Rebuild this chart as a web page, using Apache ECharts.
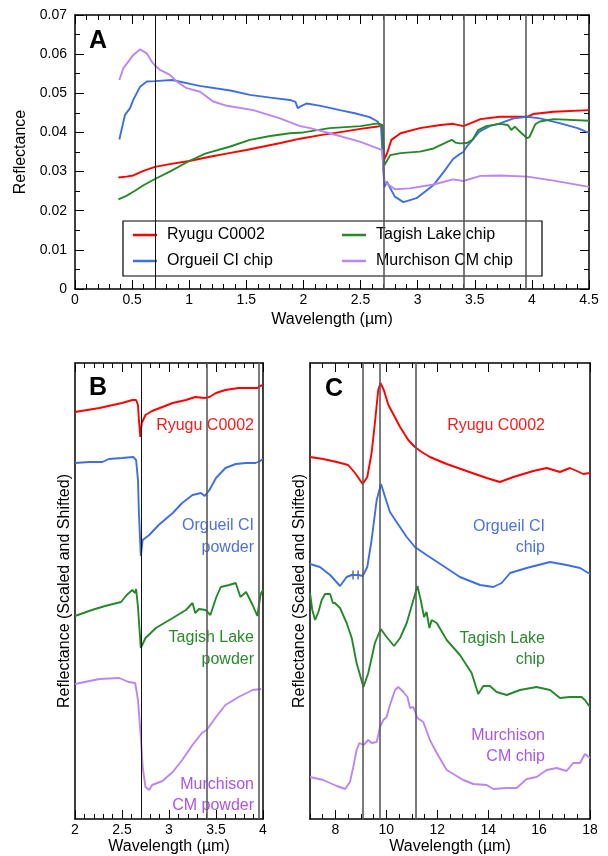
<!DOCTYPE html>
<html>
<head>
<meta charset="utf-8">
<title>Ryugu reflectance spectra</title>
<script src="https://cdn.jsdelivr.net/npm/echarts@6/dist/echarts.min.js"></script>
<style>
  html, body { margin: 0; padding: 0; background: #fff; }
  #chart { width: 608px; height: 856px; }
</style>
</head>
<body>
<div id="chart"></div>
<script>
// ---- panel A : absolute reflectance, [wavelength µm, reflectance] ----
const ryuguA = [[0.38,0.0285],[0.45,0.0287],[0.51,0.0290],[0.6,0.0302],[0.7,0.0312],[0.83,0.0319],[1.0,0.0327],[1.18,0.0338],[1.35,0.0347],[1.5,0.0355],[1.65,0.0364],[1.8,0.0373],[1.97,0.0384],[2.15,0.0393],[2.35,0.0402],[2.5,0.0409],[2.65,0.0415],[2.69,0.0418],[2.70,0.0370],[2.71,0.0332],[2.73,0.0345],[2.77,0.0381],[2.85,0.0398],[3.02,0.0411],[3.2,0.0419],[3.31,0.0422],[3.4,0.0416],[3.46,0.0423],[3.55,0.0434],[3.72,0.0440],[3.96,0.0440],[4.01,0.0447],[4.19,0.0453],[4.5,0.0457]];
const orgueilA = [[0.388,0.0382],[0.438,0.0445],[0.482,0.0462],[0.51,0.0483],[0.57,0.0517],[0.628,0.0530],[0.7,0.0531],[0.85,0.0534],[1.09,0.0519],[1.36,0.0507],[1.53,0.0496],[1.71,0.0489],[1.88,0.0483],[1.93,0.0478],[1.95,0.0462],[1.97,0.0466],[2.03,0.0474],[2.15,0.0468],[2.32,0.0457],[2.45,0.0449],[2.58,0.0439],[2.65,0.0428],[2.68,0.0412],[2.70,0.0300],[2.71,0.0261],[2.73,0.0274],[2.80,0.0236],[2.875,0.0222],[2.99,0.0232],[3.14,0.0266],[3.23,0.0300],[3.31,0.0332],[3.37,0.0345],[3.40,0.0350],[3.43,0.0364],[3.48,0.0381],[3.54,0.0402],[3.63,0.0416],[3.72,0.0423],[3.84,0.0436],[3.96,0.0440],[4.07,0.0436],[4.25,0.0423],[4.4,0.0411],[4.5,0.0399]];
const tagishA = [[0.38,0.0229],[0.45,0.0238],[0.525,0.0251],[0.6,0.0265],[0.7,0.0281],[0.83,0.0300],[1.0,0.0327],[1.14,0.0346],[1.36,0.0364],[1.53,0.0381],[1.71,0.0391],[1.88,0.0398],[2.0,0.0400],[2.23,0.0411],[2.5,0.0416],[2.65,0.0423],[2.69,0.0419],[2.70,0.0360],[2.71,0.0317],[2.76,0.0342],[2.85,0.0347],[3.02,0.0351],[3.14,0.0359],[3.26,0.0376],[3.3,0.0381],[3.33,0.0374],[3.37,0.0372],[3.43,0.0373],[3.48,0.0381],[3.53,0.0406],[3.6,0.0416],[3.72,0.0422],[3.79,0.0419],[3.82,0.0406],[3.85,0.0415],[3.91,0.0398],[3.96,0.0385],[3.98,0.0389],[4.03,0.0421],[4.07,0.0428],[4.19,0.0434],[4.5,0.0430]];
const murchisonA = [[0.388,0.0534],[0.423,0.0564],[0.467,0.0581],[0.51,0.0598],[0.569,0.0612],[0.628,0.0602],[0.672,0.0581],[0.70,0.0571],[0.744,0.0560],[0.832,0.0547],[0.89,0.0530],[0.978,0.0513],[1.095,0.0504],[1.21,0.0479],[1.33,0.0468],[1.56,0.0457],[1.795,0.0436],[1.97,0.0416],[2.06,0.0411],[2.23,0.0398],[2.5,0.0376],[2.69,0.0355],[2.71,0.0274],[2.80,0.0255],[2.93,0.0257],[3.14,0.0267],[3.31,0.0280],[3.40,0.0276],[3.55,0.0289],[3.72,0.0290],[3.96,0.0287],[4.19,0.0277],[4.5,0.0261]];

// ---- panel B : powders 2-4 µm, scaled and shifted (arbitrary units) ----
const ryuguB = [[2.0,407],[2.26,411],[2.5,416],[2.61,419],[2.65,419],[2.67,414],[2.68,399],[2.695,382],[2.71,396],[2.75,404],[2.82,408],[2.93,412],[3.04,416],[3.18,419],[3.28,422],[3.38,421],[3.43,422],[3.5,426],[3.6,429],[3.74,431],[3.89,431],[3.94,431],[3.97,433],[4.0,434]];
const orgueilB = [[2.0,356],[2.15,357],[2.29,357],[2.36,360],[2.5,361],[2.62,362],[2.65,359],[2.67,339],[2.68,306],[2.7,263],[2.72,279],[2.79,284],[2.89,294],[3.04,306],[3.14,316],[3.25,324],[3.34,326],[3.38,323],[3.43,329],[3.5,341],[3.6,351],[3.71,355],[3.82,356],[3.92,356],[3.97,358],[4.0,360]];
const tagishB = [[2.0,203],[2.18,209],[2.32,213],[2.49,217],[2.55,224],[2.61,229],[2.64,226],[2.65,230],[2.67,212],[2.7,171],[2.75,181],[2.86,191],[3.04,201],[3.18,209],[3.25,216],[3.28,206],[3.32,210],[3.39,209],[3.44,204],[3.5,221],[3.55,232],[3.64,234],[3.71,236],[3.76,222],[3.82,227],[3.89,214],[3.94,203],[3.97,222],[3.98,226],[4.0,229]];
const murchisonB = [[2.0,135],[2.26,140],[2.47,141],[2.57,137],[2.64,136],[2.67,119],[2.7,82],[2.72,52],[2.75,32],[2.79,29],[2.82,34],[2.93,38],[3.04,47],[3.14,59],[3.25,74],[3.35,86],[3.4,89],[3.5,102],[3.6,114],[3.74,122],[3.89,129],[3.98,130]];

// ---- panel C : chips 7-18 µm, scaled and shifted (arbitrary units) ----
const ryuguC = [[7.0,362],[7.52,360],[8.05,357],[8.5,354],[8.77,346],[9.07,335],[9.25,342],[9.42,366],[9.55,396],[9.68,429],[9.77,436],[9.9,429],[10.08,414],[10.27,405],[10.54,392],[10.86,379],[11.12,372],[11.39,367],[11.71,362],[12.37,355],[13.15,348],[13.94,341],[14.46,337],[14.99,342],[15.77,348],[16.3,351],[16.82,347],[17.21,351],[17.48,348],[17.74,345],[18.0,346]];
const orgueilC = [[7.0,255],[7.39,252],[7.79,244],[8.18,233],[8.44,242],[8.64,244],[8.9,244],[9.07,243],[9.25,252],[9.42,279],[9.62,319],[9.79,335],[9.95,322],[10.14,307],[10.4,297],[10.8,282],[11.12,272],[11.58,264],[12.24,253],[12.89,242],[13.68,234],[14.2,232],[14.53,236],[14.86,246],[15.51,251],[16.43,257],[17.08,254],[17.61,251],[18.0,245]];
const tagishC = [[7.0,226],[7.09,209],[7.2,199],[7.33,207],[7.46,219],[7.59,225],[7.79,225],[7.9,216],[7.98,216],[8.18,211],[8.44,196],[8.64,181],[8.83,156],[9.1,132],[9.29,146],[9.55,176],[9.78,190],[10.01,182],[10.3,173],[10.54,181],[10.8,196],[11.06,219],[11.22,233],[11.35,219],[11.48,202],[11.58,207],[11.69,191],[11.78,199],[11.98,196],[12.37,179],[12.89,164],[13.35,146],[13.61,125],[13.81,133],[14.07,133],[14.33,127],[14.73,124],[15.25,129],[15.9,132],[16.43,129],[16.82,121],[17.21,122],[17.67,122],[17.8,119],[18.0,112]];
const murchisonC = [[7.0,42],[7.52,39],[8.05,33],[8.38,30],[8.57,37],[8.7,52],[8.83,69],[8.94,76],[9.1,74],[9.29,79],[9.42,76],[9.62,77],[9.75,92],[9.88,99],[10.01,102],[10.14,114],[10.34,129],[10.47,132],[10.67,127],[10.83,122],[10.93,111],[11.06,112],[11.22,101],[11.45,97],[11.71,79],[11.98,66],[12.37,49],[13.02,39],[13.42,35],[13.94,34],[14.2,30],[14.73,31],[15.12,31],[15.51,40],[15.9,42],[16.3,49],[16.69,51],[17.08,48],[17.34,56],[17.61,56],[17.8,65],[18.0,61]];
const orgueilMarksC = [[8.69,244],[8.89,244]];

// band positions (µm) marked with vertical lines
const linesA = [0.7, 2.7, 3.4, 3.95];
const linesB = [2.7, 3.4, 3.95];
const linesC = [9.07, 9.75, 11.15];
const labelTicksC = [8, 10, 12, 14, 16, 18];

const names = ['Ryugu C0002', 'Orgueil CI chip', 'Tagish Lake chip', 'Murchison CM chip'];
const colors = ['#ff0000', '#3f6ee4', '#25892a', '#bb86f4'];
const textColors = ['#ff1a1a', '#4a72e6', '#2a8a2a', '#aa55f0'];

const FONT = '"Liberation Sans", Arial, Helvetica, sans-serif';
const BLACK = '#000';

const chart = echarts.init(document.getElementById('chart'));

function xAx(grid, min, max, interval, pos, extra) {
  return Object.assign({
    gridIndex: grid, type: 'value', min: min, max: max, interval: interval, position: pos,
    axisLine: { onZero: false, lineStyle: { color: BLACK, width: 1.5 } },
    axisTick: { inside: true, length: 9, lineStyle: { color: BLACK, width: 1 } },
    minorTick: { show: true, splitNumber: 5, length: 5, lineStyle: { color: BLACK, width: 1 } },
    splitLine: { show: false },
    axisLabel: { show: false }
  }, extra || {});
}

const tickLabel = { show: true, margin: 4, fontSize: 14, color: BLACK, fontFamily: FONT };
const axisName = { fontSize: 16, color: BLACK, fontFamily: FONT };

const xAxes = [
  xAx(0, 0, 4.5, 0.5, 'bottom', { axisLabel: tickLabel, name: 'Wavelength (µm)', nameLocation: 'middle', nameGap: 23, nameMoveOverlap: false, nameTextStyle: axisName }),
  xAx(0, 0, 4.5, 0.5, 'top'),
  xAx(1, 2, 4, 0.5, 'bottom', { axisLabel: Object.assign({}, tickLabel, { margin: 4 }), name: 'Wavelength (µm)', nameLocation: 'middle', nameGap: 20, nameMoveOverlap: false, nameTextStyle: axisName }),
  xAx(1, 2, 4, 0.5, 'top'),
  // panel C: short ticks every 0.5, long ticks and labels at even values
  xAx(2, 7, 18, 0.5, 'bottom', {
    axisTick: { inside: true, length: 5, lineStyle: { color: BLACK, width: 1 } },
    minorTick: { show: false },
    axisLabel: Object.assign({}, tickLabel, { margin: 4, customValues: labelTicksC, formatter: v => (v % 2 === 0 ? String(v) : '') }),
    name: 'Wavelength (µm)', nameLocation: 'middle', nameGap: 20, nameMoveOverlap: false, nameTextStyle: axisName
  }),
  xAx(2, 7, 18, 0.5, 'top', {
    axisTick: { inside: true, length: 5, lineStyle: { color: BLACK, width: 1 } },
    minorTick: { show: false }
  }),
  xAx(2, 7, 18, 0.5, 'bottom', {
    axisLine: { show: false, onZero: false },
    axisTick: { inside: true, length: 9, customValues: labelTicksC, lineStyle: { color: BLACK, width: 1 } },
    minorTick: { show: false }
  }),
  xAx(2, 7, 18, 0.5, 'top', {
    axisLine: { show: false, onZero: false },
    axisTick: { inside: true, length: 9, customValues: labelTicksC, lineStyle: { color: BLACK, width: 1 } },
    minorTick: { show: false }
  })
];

function yPlain(grid, pos, extra) {
  return Object.assign({
    gridIndex: grid, type: 'value', min: 0, max: 456, position: pos,
    axisLine: { show: true, onZero: false, lineStyle: { color: BLACK, width: 1.5 } },
    axisTick: { show: false }, axisLabel: { show: false }, splitLine: { show: false }
  }, extra || {});
}

const yAxes = [
  {
    gridIndex: 0, type: 'value', min: 0, max: 0.07, interval: 0.01, position: 'left',
    axisLine: { onZero: false, lineStyle: { color: BLACK, width: 1.5 } },
    axisTick: { inside: true, length: 9, lineStyle: { color: BLACK, width: 1 } },
    minorTick: { show: true, splitNumber: 2, length: 5, lineStyle: { color: BLACK, width: 1 } },
    splitLine: { show: false },
    axisLabel: Object.assign({}, tickLabel, { margin: 8 }),
    name: 'Reflectance', nameLocation: 'middle', nameGap: 46, nameTextStyle: axisName
  },
  {
    gridIndex: 0, type: 'value', min: 0, max: 0.07, interval: 0.01, position: 'right',
    axisLine: { onZero: false, lineStyle: { color: BLACK, width: 1.5 } },
    axisTick: { inside: true, length: 9, lineStyle: { color: BLACK, width: 1 } },
    minorTick: { show: true, splitNumber: 2, length: 5, lineStyle: { color: BLACK, width: 1 } },
    splitLine: { show: false }, axisLabel: { show: false }
  },
  yPlain(1, 'left', { name: 'Reflectance (Scaled and Shifted)', nameLocation: 'middle', nameGap: 2, nameTextStyle: axisName }),
  yPlain(1, 'right'),
  yPlain(2, 'left', { name: 'Reflectance (Scaled and Shifted)', nameLocation: 'middle', nameGap: 2, nameTextStyle: axisName }),
  yPlain(2, 'right')
];

function vLines(list, thinAt) {
  return {
    silent: true, symbol: 'none', label: { show: false }, animation: false,
    data: list.map(v => ({
      xAxis: v,
      lineStyle: thinAt.indexOf(v) >= 0
        ? { color: '#111', width: 1, type: 'solid' }
        : { color: '#5a5a5a', width: 1.6, type: 'solid' }
    }))
  };
}

function line(name, data, color, xi, yi, markLine) {
  const s = {
    name: name, type: 'line', data: data, xAxisIndex: xi, yAxisIndex: yi,
    showSymbol: false, symbol: 'none', clip: true,
    lineStyle: { color: color, width: 1.9 }, itemStyle: { color: color }
  };
  if (markLine) s.markLine = markLine;
  return s;
}

const dataA = [ryuguA, orgueilA, tagishA, murchisonA];
const dataB = [ryuguB, orgueilB, tagishB, murchisonB];
const dataC = [ryuguC, orgueilC, tagishC, murchisonC];

const series = [];
dataA.forEach((d, i) => series.push(line(names[i], d, colors[i], 0, 0, i === 0 ? vLines(linesA, [0.7]) : null)));
dataB.forEach((d, i) => series.push(line(names[i] + ' B', d, colors[i], 2, 2, i === 0 ? vLines(linesB, [2.7]) : null)));
dataC.forEach((d, i) => series.push(line(names[i] + ' C', d, colors[i], 4, 4, i === 0 ? vLines(linesC, []) : null)));
series.push({
  name: 'marks C', type: 'scatter', xAxisIndex: 4, yAxisIndex: 4, data: orgueilMarksC,
  symbol: 'rect', symbolSize: [1.5, 9], itemStyle: { color: '#444' }, silent: true
});

// annotation labels for panels B and C
function note(x, y, text, color) {
  return { type: 'text', x: x, y: y, silent: true,
    style: { text: text, fill: color, font: '16px ' + FONT, align: 'right', verticalAlign: 'middle' } };
}
function panelLetter(x, y, text) {
  return { type: 'text', x: x, y: y, silent: true,
    style: { text: text, fill: BLACK, font: 'bold 25px ' + FONT, align: 'left', verticalAlign: 'middle' } };
}

const graphics = [
  { type: 'rect', silent: true, shape: { x: 123, y: 221, width: 419, height: 55 },
    style: { fill: 'none', stroke: BLACK, lineWidth: 1.2 } },
  panelLetter(89, 41, 'A'),
  panelLetter(89, 388, 'B'),
  panelLetter(325, 389, 'C'),
  note(254, 426, 'Ryugu C0002', textColors[0]),
  note(254, 526, 'Orgueil CI', textColors[1]),
  note(254, 548, 'powder', textColors[1]),
  note(254, 638, 'Tagish Lake', textColors[2]),
  note(254, 660, 'powder', textColors[2]),
  note(254, 785, 'Murchison', textColors[3]),
  note(254, 806, 'CM powder', textColors[3]),
  note(545, 426, 'Ryugu C0002', textColors[0]),
  note(545, 527, 'Orgueil CI', textColors[1]),
  note(545, 548, 'chip', textColors[1]),
  note(545, 639, 'Tagish Lake', textColors[2]),
  note(545, 660, 'chip', textColors[2]),
  note(545, 736, 'Murchison', textColors[3]),
  note(545, 757, 'CM chip', textColors[3])
];

const legendBase = {
  orient: 'vertical', top: 227, padding: 0, itemGap: 10,
  icon: 'rect', itemWidth: 24, itemHeight: 2.5, selectedMode: false,
  textStyle: { fontSize: 16, color: BLACK, fontFamily: FONT, padding: [0, 0, 0, 5] }
};

chart.setOption({
  animation: false,
  backgroundColor: '#fff',
  textStyle: { fontFamily: FONT },
  grid: [
    { left: 75, top: 15, width: 514, height: 274, outerBoundsMode: 'none' },
    { left: 75, top: 363, width: 188, height: 456, outerBoundsMode: 'none' },
    { left: 310, top: 363, width: 280, height: 456, outerBoundsMode: 'none' }
  ],
  legend: [
    Object.assign({}, legendBase, { left: 133, data: [names[0], names[1]] }),
    Object.assign({}, legendBase, { left: 342, data: [names[2], names[3]] })
  ],
  xAxis: xAxes,
  yAxis: yAxes,
  series: series,
  graphic: graphics
});
</script>
</body>
</html>
